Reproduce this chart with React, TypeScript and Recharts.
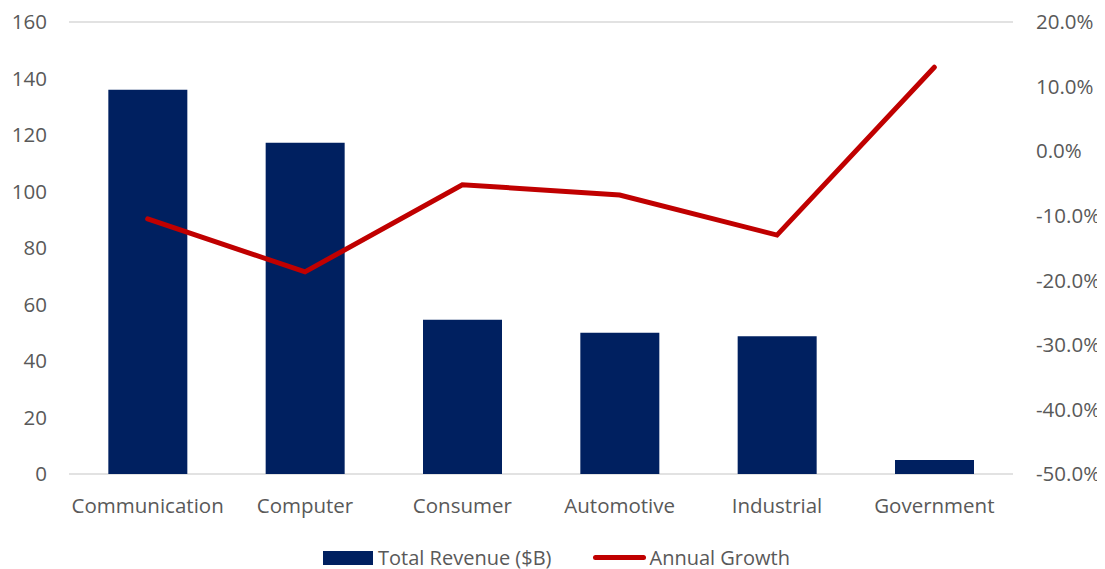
import { ComposedChart, Bar, Line, XAxis, YAxis, CartesianGrid, Legend } from "recharts";

const categories = ["Communication", "Computer", "Consumer", "Automotive", "Industrial", "Government"];
const revenue = [136, 117.3, 54.6, 50, 48.8, 5];
const growth = [-10.5, -18.7, -5.2, -6.8, -13, 13];
const leftTicks = [0, 20, 40, 60, 80, 100, 120, 140, 160];
const rightTicks = [-50, -40, -30, -20, -10, 0, 10, 20];

const data = categories.map((name, i) => ({ name, revenue: revenue[i], growth: growth[i] }));

const FONT = "'Open Sans', sans-serif";
const TEXT = "#595959";

function LegendBox() {
  return (
    <div style={{ display: "flex", justifyContent: "center", alignItems: "center", fontFamily: FONT, fontSize: 20, color: TEXT, paddingTop: 20 }}>
      <span style={{ display: "inline-block", width: 50, height: 14, background: "#002060", marginRight: 5 }} />
      <span style={{ marginRight: 42 }}>Total Revenue ($B)</span>
      <span style={{ display: "inline-block", width: 53, height: 5, borderRadius: 3, background: "#C00000", marginRight: 3 }} />
      <span>Annual Growth</span>
    </div>
  );
}

export default function App() {
  const tick = { fill: TEXT, fontSize: 20.5, fontFamily: FONT };
  return (
    <ComposedChart width={1097} height={561} data={data} margin={{ top: 14, right: 0, left: 0, bottom: 0 }} barCategoryGap="25%">
      <CartesianGrid vertical={false} stroke="#D9D9D9" strokeWidth={1.5} />
      <XAxis dataKey="name" axisLine={false} tickLine={false} tick={tick} tickMargin={18} height={50} />
      <YAxis yAxisId="left" domain={[0, 160]} ticks={leftTicks} axisLine={false} tickLine={false} tickSize={0} tickMargin={22} width={61} tick={tick} />
      <YAxis
        yAxisId="right"
        orientation="right"
        domain={[-50, 20]}
        ticks={rightTicks}
        axisLine={false}
        tickLine={false}
        tickSize={0}
        tickMargin={23}
        width={92}
        tick={tick}
        tickFormatter={(v: number) => `${v.toFixed(1)}%`}
      />
      <Legend verticalAlign="bottom" height={45} content={() => <LegendBox />} />
      <Bar yAxisId="left" dataKey="revenue" name="Total Revenue ($B)" fill="#002060" isAnimationActive={false} />
      <Line yAxisId="right" dataKey="growth" name="Annual Growth" stroke="#C00000" strokeWidth={5} dot={false} type="linear" strokeLinecap="round" isAnimationActive={false} />
    </ComposedChart>
  );
}
